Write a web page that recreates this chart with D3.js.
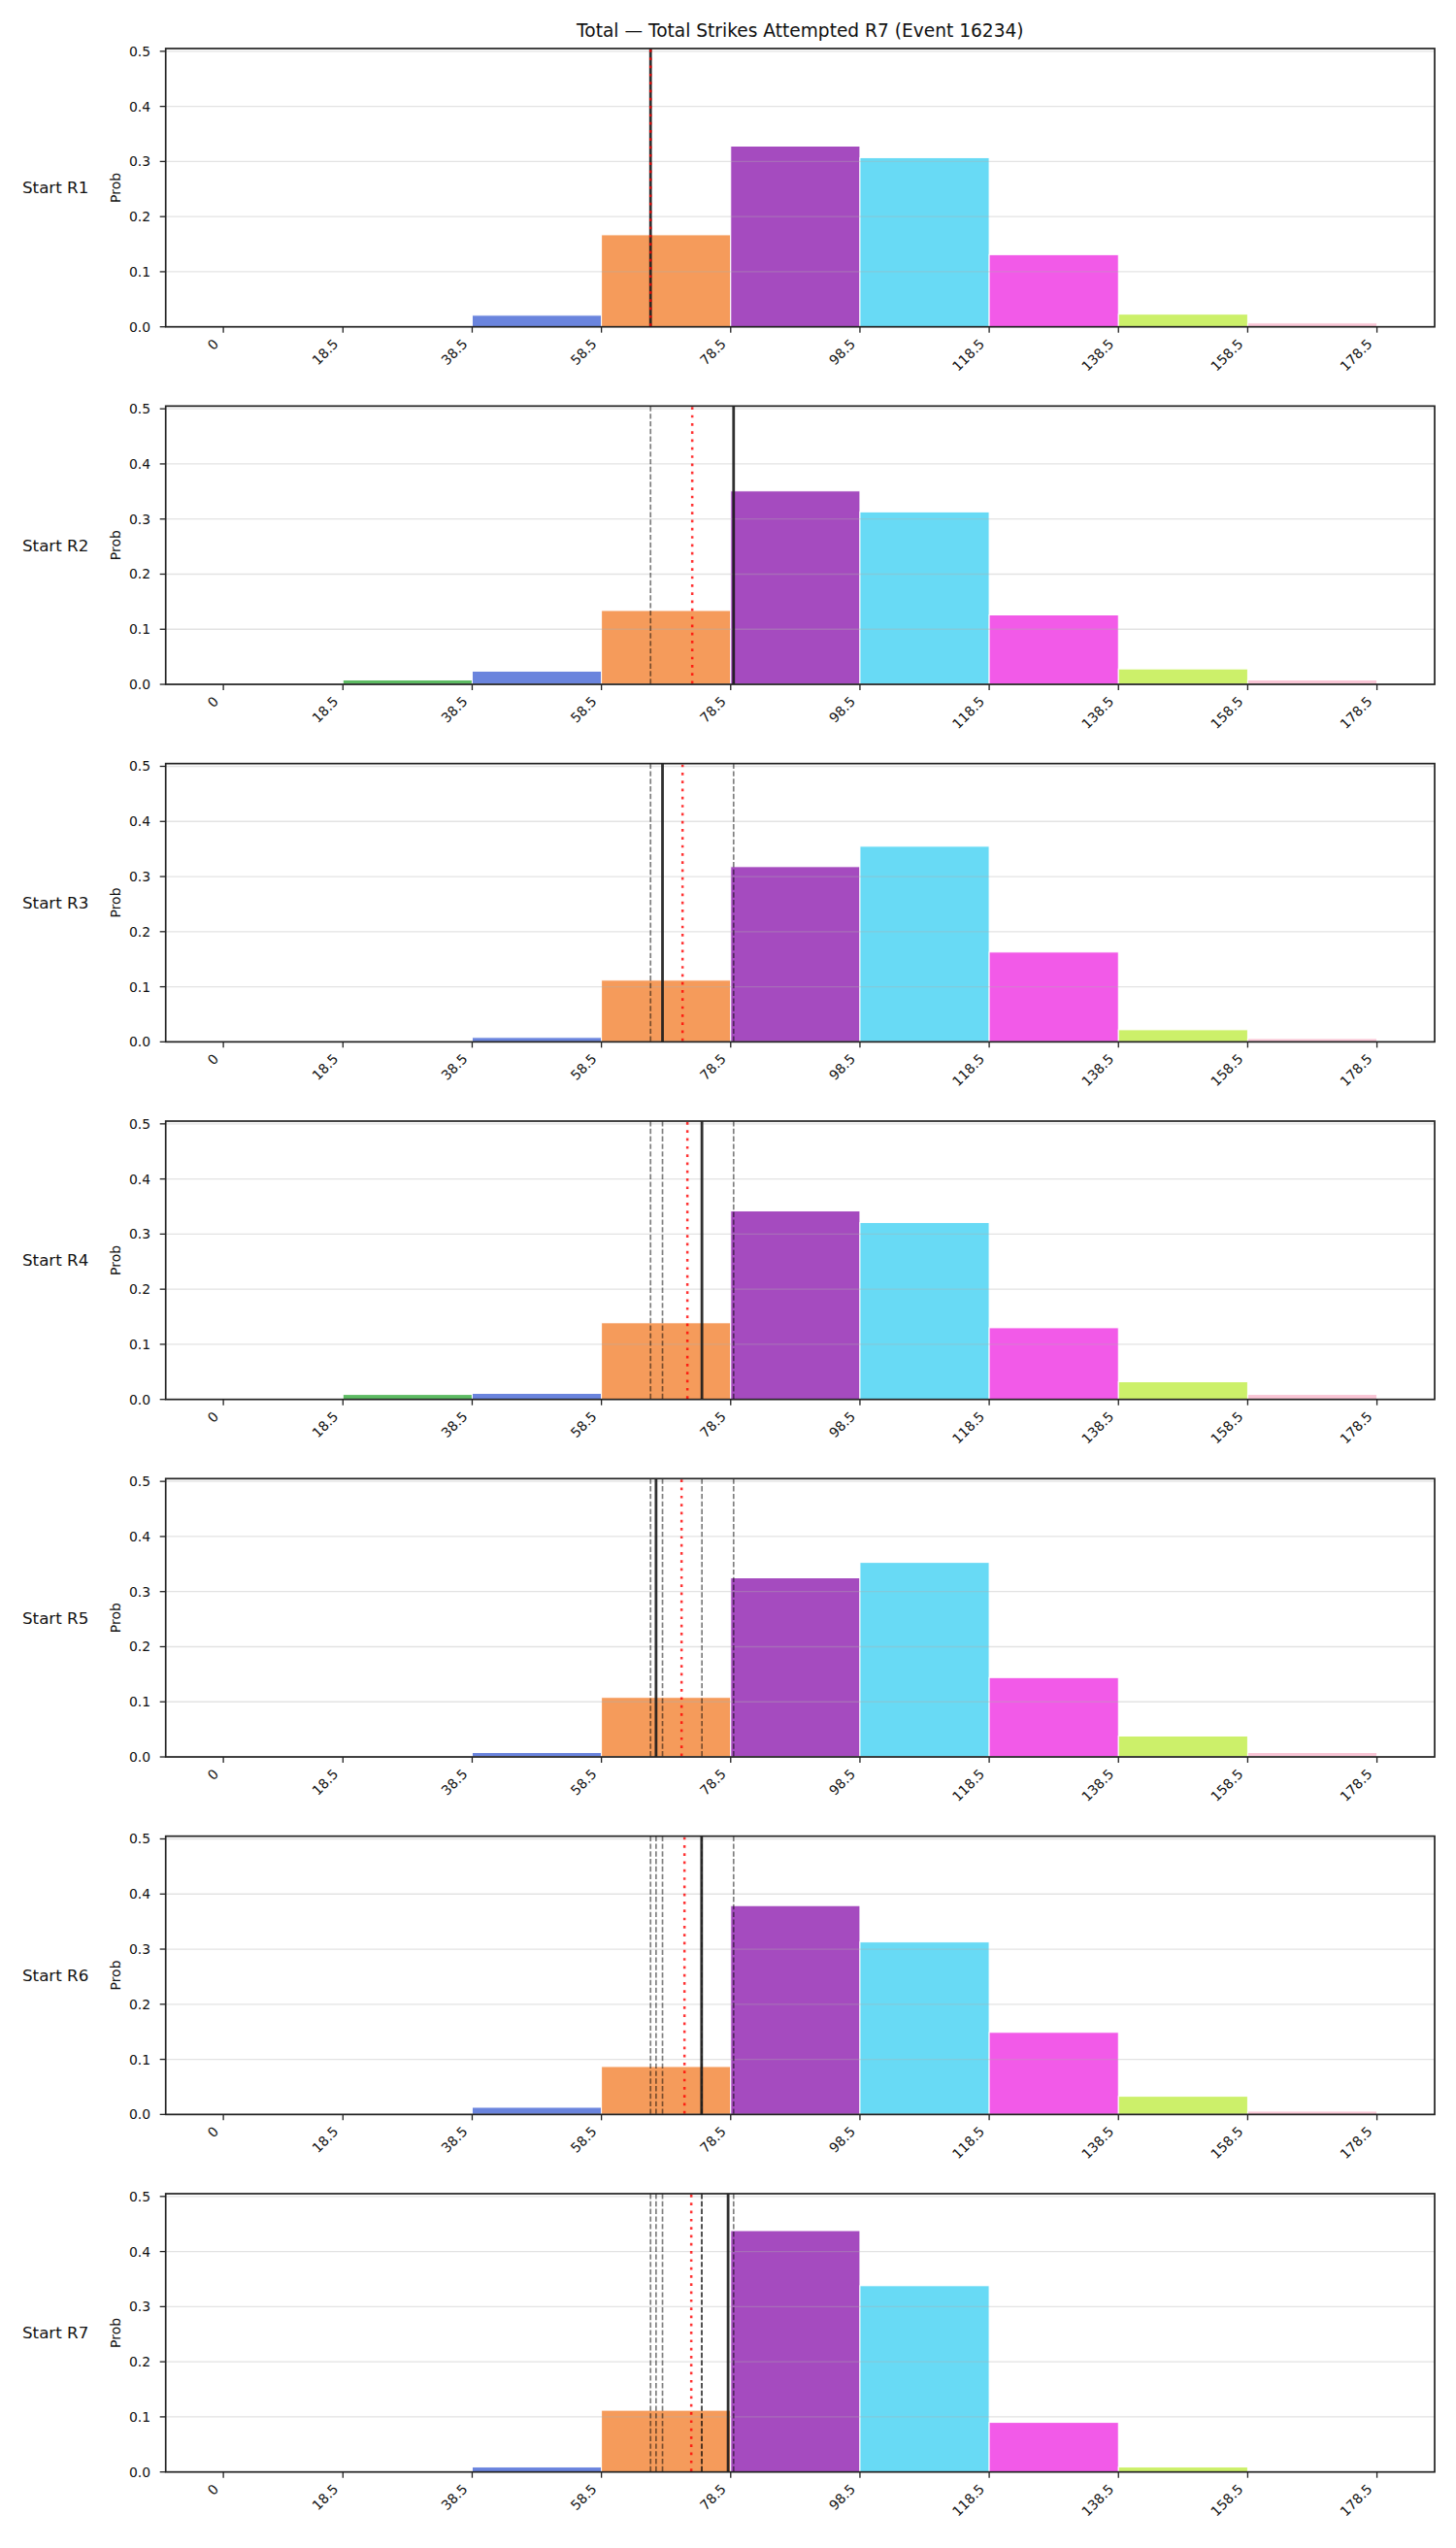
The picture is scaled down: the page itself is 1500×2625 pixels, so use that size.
<!DOCTYPE html>
<html>
<head>
<meta charset="utf-8">
<script src="https://cdn.jsdelivr.net/npm/d3@7/dist/d3.min.js"></script>
<style>
  body { margin: 0; background: #fff; }
  text { font-family: "DejaVu Sans", sans-serif; fill: #111; }
</style>
</head>
<body>
<div id="chart"></div>
<script>
// bin edges (also the x tick labels) and the colour of each bin
const binEdges = [0, 18.5, 38.5, 58.5, 78.5, 98.5, 118.5, 138.5, 158.5, 178.5];
const binColors = ["#e8696b", "#5dbb63", "#6a84dd", "#f59b5b", "#a54bbf",
  "#68daf5", "#f25ae8", "#ccf06a", "#f9c5d5"];

const rowLabels = ["Start R1", "Start R2", "Start R3", "Start R4", "Start R5", "Start R6", "Start R7"];

// probability per bin, one list per starting round
const probR1 = [0, 0, 0.021, 0.167, 0.328, 0.307, 0.131, 0.023, 0.007];
const probR2 = [0, 0.008, 0.024, 0.134, 0.351, 0.313, 0.126, 0.028, 0.008];
const probR3 = [0, 0, 0.008, 0.112, 0.318, 0.355, 0.163, 0.022, 0.006];
const probR4 = [0, 0.009, 0.011, 0.139, 0.342, 0.321, 0.130, 0.032, 0.009];
const probR5 = [0, 0, 0.008, 0.108, 0.325, 0.353, 0.144, 0.038, 0.008];
const probR6 = [0, 0, 0.013, 0.087, 0.379, 0.313, 0.149, 0.033, 0.006];
const probR7 = [0, 0, 0.009, 0.112, 0.438, 0.338, 0.090, 0.009, 0];

// solid black marker per round (earlier rounds come back as grey dashes)
const markerLine = [66.1, 78.95, 67.95, 74.05, 66.95, 74.0, 78.1];
// red dotted marker per round
const redLine = [66.1, 72.55, 71.05, 71.8, 70.9, 71.35, 72.4];

const yTicks = [0, 0.1, 0.2, 0.3, 0.4, 0.5];

const probs = [probR1, probR2, probR3, probR4, probR5, probR6, probR7];

const width = 1500;
const height = 2625;
const left = 170.7;
const right = 1478;
const top0 = 50;
const panelH = 286.7;
const pitch = 368.33;

const svg = d3
  .select("#chart")
  .append("svg")
  .attr("width", width)
  .attr("height", height);

// matplotlib-like 5% margins around [0, 178.5]
const x = d3
  .scaleLinear()
  .domain([-8.925, 187.425])
  .range([left, right]);

svg
  .append("text")
  .attr("x", (left + right) / 2)
  .attr("y", 38)
  .attr("text-anchor", "middle")
  .style("font-size", "18.6px")
  .text("Total \u2014 Total Strikes Attempted R7 (Event 16234)");

probs.forEach(function (vals, i) {
  const top = top0 + i * pitch;
  const bottom = top + panelH;

  const y = d3.scaleLinear().domain([0, 0.505]).range([bottom, top]);

  const g = svg.append("g");

  const bins = vals.map((v, k) => ({
    x0: binEdges[k],
    x1: binEdges[k + 1],
    value: v,
    color: binColors[k],
  }));

  g.selectAll("rect.bar")
    .data(bins.filter((d) => d.value > 0))
    .enter()
    .append("rect")
    .attr("class", "bar")
    .attr("x", (d) => x(d.x0))
    .attr("width", (d) => x(d.x1) - x(d.x0))
    .attr("y", (d) => y(d.value))
    .attr("height", (d) => y(0) - y(d.value))
    .style("fill", (d) => d.color)
    .style("stroke", "#fff")
    .style("stroke-width", 1);

  // horizontal grid, sits over the bars like matplotlib's
  g.selectAll("line.grid")
    .data(yTicks)
    .enter()
    .append("line")
    .attr("x1", left)
    .attr("x2", right)
    .attr("y1", (d) => y(d))
    .attr("y2", (d) => y(d))
    .style("stroke", "#b0b0b0")
    .style("stroke-opacity", 0.35)
    .style("stroke-width", 1.3);

  // earlier rounds' markers
  g.selectAll("line.prev")
    .data(markerLine.slice(0, i))
    .enter()
    .append("line")
    .attr("x1", (d) => x(d))
    .attr("x2", (d) => x(d))
    .attr("y1", top)
    .attr("y2", bottom)
    .style("stroke", "#000")
    .style("stroke-opacity", 0.5)
    .style("stroke-width", 1.7)
    .style("stroke-dasharray", "5.4,2.4");

  g.append("line")
    .attr("x1", x(markerLine[i]))
    .attr("x2", x(markerLine[i]))
    .attr("y1", top)
    .attr("y2", bottom)
    .style("stroke", "#1a1a1a")
    .style("stroke-opacity", 0.9)
    .style("stroke-width", 2.8);

  g.append("line")
    .attr("x1", x(redLine[i]))
    .attr("x2", x(redLine[i]))
    .attr("y1", top + 1)
    .attr("y2", bottom)
    .style("stroke", "#ff0000")
    .style("stroke-opacity", 0.8)
    .style("stroke-width", 2.5)
    .style("stroke-dasharray", "2.7,5.6");

  // frame
  g.append("rect")
    .attr("x", left)
    .attr("y", top)
    .attr("width", right - left)
    .attr("height", panelH)
    .style("fill", "none")
    .style("stroke", "#222")
    .style("stroke-width", 1.7);

  // y ticks
  g.selectAll("line.yt")
    .data(yTicks)
    .enter()
    .append("line")
    .attr("x1", left - 6)
    .attr("x2", left)
    .attr("y1", (d) => y(d))
    .attr("y2", (d) => y(d))
    .style("stroke", "#222")
    .style("stroke-width", 1.3);

  g.selectAll("text.yt")
    .data(yTicks)
    .enter()
    .append("text")
    .attr("x", 155)
    .attr("y", (d) => y(d))
    .attr("text-anchor", "end")
    .attr("dominant-baseline", "central")
    .style("font-size", "13.9px")
    .text(d3.format(".1f"));

  // x ticks
  g.selectAll("line.xt")
    .data(binEdges)
    .enter()
    .append("line")
    .attr("x1", (d) => x(d))
    .attr("x2", (d) => x(d))
    .attr("y1", bottom)
    .attr("y2", bottom + 6)
    .style("stroke", "#222")
    .style("stroke-width", 1.3);

  g.selectAll("text.xt")
    .data(binEdges)
    .enter()
    .append("text")
    .attr("transform", (d) => "translate(" + (x(d) - 4) + "," + (bottom + 18.5) + ") rotate(-45)")
    .attr("text-anchor", "end")
    .style("font-size", "13.9px")
    .text((d) => d);

  // y label and row label
  g.append("text")
    .attr("transform", "translate(124," + (top + panelH / 2) + ") rotate(-90)")
    .attr("text-anchor", "middle")
    .style("font-size", "14px")
    .text("Prob");

  g.append("text")
    .attr("x", 23)
    .attr("y", top + panelH / 2)
    .attr("dominant-baseline", "central")
    .style("font-size", "16.7px")
    .text(rowLabels[i]);
});
</script>
</body>
</html>
